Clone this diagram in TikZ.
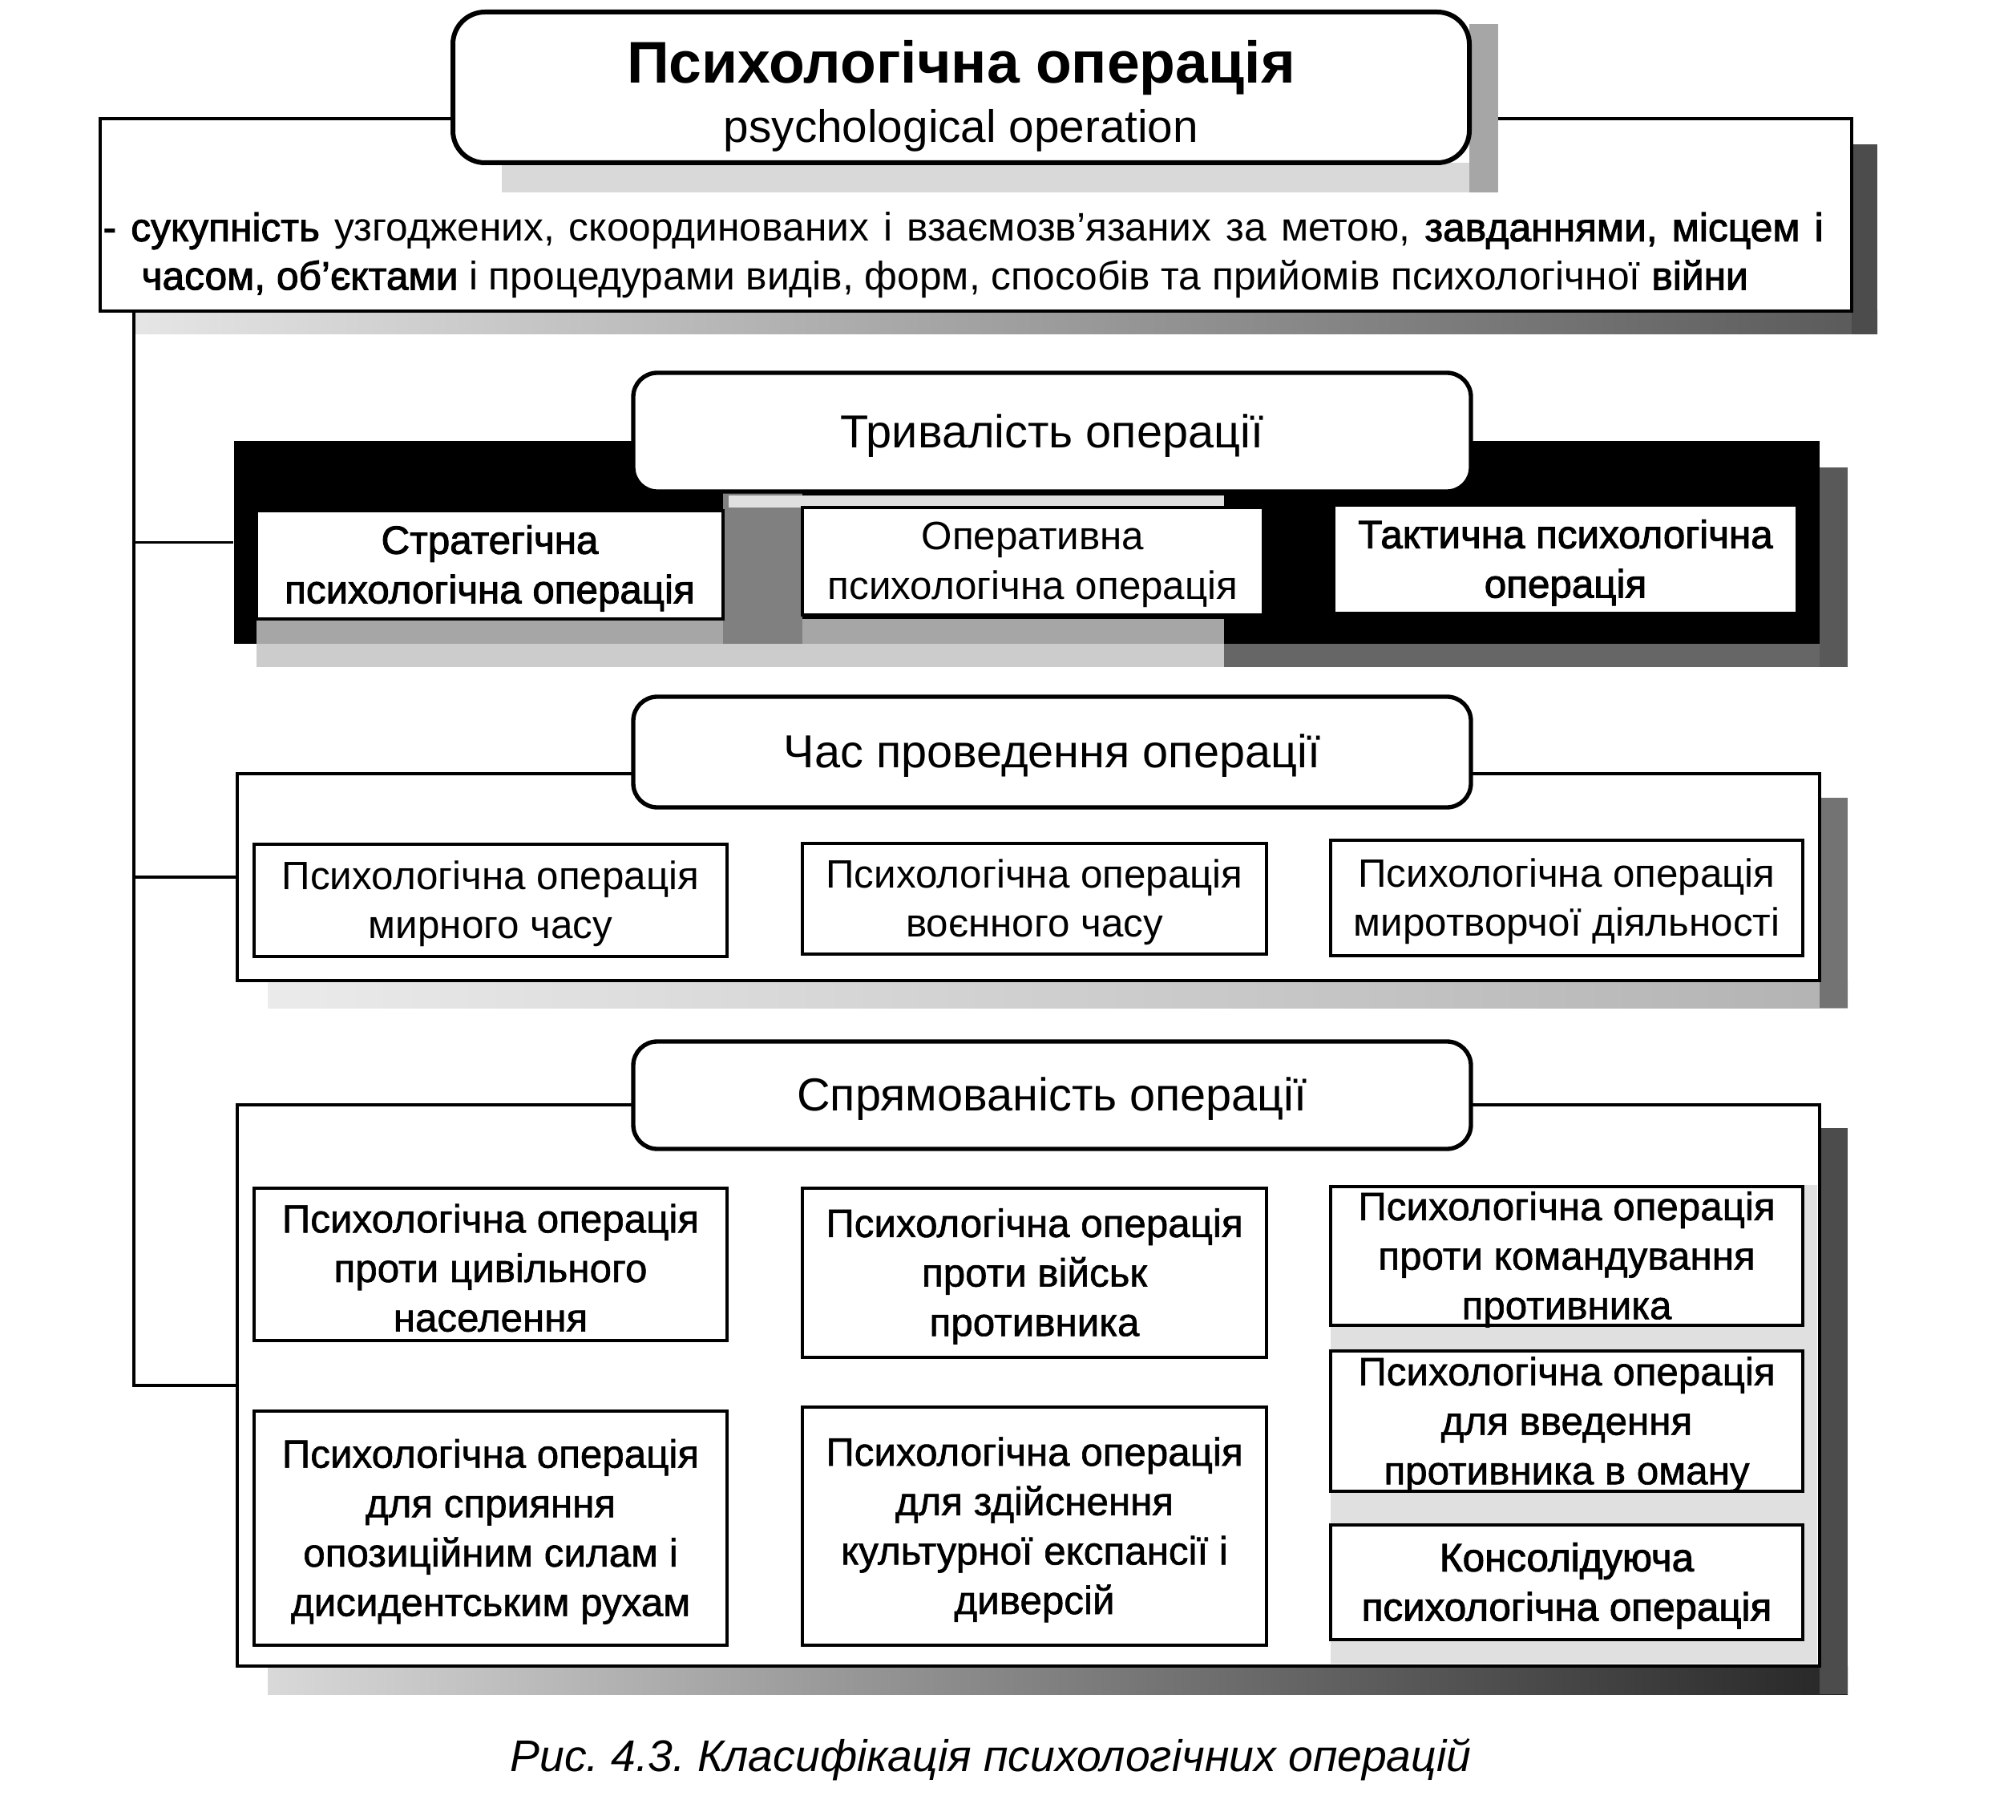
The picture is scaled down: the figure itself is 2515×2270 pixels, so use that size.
\documentclass[tikz,border=0pt]{standalone}
\usepackage{fontspec}
\setmainfont{Liberation Sans}
\newfontfamily\fbA{Liberation Sans}[FakeBold=1.2]
\newfontfamily\fbB{Liberation Sans}[FakeBold=2]
\frenchspacing
\tikzset{
  lbl/.style={inner sep=0pt, align=center, font=\fontsize{14.9}{18.5}\selectfont},
  ibox/.style={draw, line width=1.1pt, fill=white, inner sep=0pt},
  itxt/.style={inner sep=0pt, align=center, font=\fontsize{14.8}{18.5}\selectfont},
  bfA/.style={font=\fbA\fontsize{14.8}{18.5}\selectfont},
  bfB/.style={font=\fbB\fontsize{14.8}{18.5}\selectfont},
  hbox/.style={draw, line width=1.6pt, fill=white, rounded corners=9pt, inner sep=0pt},
  htxt/.style={inner sep=0pt, align=center, font=\fontsize{17.3}{20}\selectfont},
  obox/.style={draw, line width=1.2pt, fill=white, inner sep=0pt},
  blk/.style={fill=black, inner sep=0pt},
  conn/.style={line width=1.1pt},
}
% #1 box style, #2 name, (#3,#4) top-left, (#5,#6) bottom-right, #7 text style, #8 text
\newcommand\boxat[8]{%
  \pgfmathsetmacro\bxw{0.3*(#5-#3)}%
  \pgfmathsetmacro\bxh{0.3*(#6-#4)}%
  \node[#1, minimum width=\bxw pt, minimum height=\bxh pt] (#2) at ({(#3+#5)/2},{(#4+#6)/2}) {};
  \node[#7, yshift=-1.3pt] (#2-t) at (#2.center) {#8};}
\begin{document}
\begin{tikzpicture}[x=0.3pt,y=-0.3pt]
\useasboundingbox (0,0) rectangle (2515,2270);
% definition box with shadow
\shade[left color=black!10,right color=black!65] (168,388) rectangle (2342,417);
\fill[black!70] (2310,180) rectangle (2342,417);
\boxat{obox}{def}{125}{148}{2310}{388}{lbl}{}
% title shadow and title
\fill[black!15] (626,203) rectangle (1869,240);
\fill[black!35] (1833,30) rectangle (1869,240);
\boxat{hbox, rounded corners=12pt, line width=1.8pt}{title}{565}{15}{1833}{203}{lbl}{}
\node[font=\bfseries\fontsize{22}{26}\selectfont, inner sep=0pt] (t1) at (1199,85) {Психологічна операція};
\node[font=\fontsize{17}{20}\selectfont, inner sep=0pt] (t2) at (1199,163) {psychological operation};
\node[lbl, anchor=west] (d1) at (128,288) {\hbox to 643.8pt{{\fbB- сукупність} узгоджених, скоординованих і взаємозв’язаних за метою, {\fbB завданнями, місцем і}}};
\node[lbl, anchor=west] (d2) at (176,348) {{\fbB часом, об’єктами} і процедурами видів, форм, способів та прийомів психологічної {\fbB війни}};
% section 1
\fill[black!60] (1527,803) rectangle (2305,832);
\fill[black!20] (320,803) rectangle (1527,832);
\fill[black!65] (2270,583) rectangle (2305,832);
\boxat{blk}{s1}{292}{550}{2270}{803}{lbl}{}
\fill[black!35] (320,772) rectangle (1527,803);
\fill[black!50] (902,613) rectangle (1001,803);
\fill[black!12] (909,618) rectangle (1527,633);
\boxat{ibox}{s1a}{320}{637}{902}{772}{itxt, bfB}{Стратегічна\\психологічна операція}
\boxat{ibox}{s1b}{1001}{633}{1576}{767}{itxt}{Оперативна\\психологічна операція}
\boxat{ibox}{s1c}{1664}{630}{2242}{765}{itxt, bfB}{Тактична психологічна\\операція}
\boxat{hbox}{h1}{790}{465}{1835}{613}{htxt}{Тривалість операції}
% section 2
\shade[left color=black!8,right color=black!30] (334,1223) rectangle (2305,1257);
\fill[black!55] (2270,995) rectangle (2305,1257);
\boxat{obox}{s2}{296}{965}{2270}{1223}{lbl}{}
\boxat{ibox}{s2a}{317}{1053}{907}{1193}{itxt}{Психологічна операція\\мирного часу}
\boxat{ibox}{s2b}{1001}{1052}{1580}{1190}{itxt}{Психологічна операція\\воєнного часу}
\boxat{ibox}{s2c}{1660}{1048}{2249}{1192}{itxt}{Психологічна операція\\миротворчої діяльності}
\boxat{hbox}{h2}{790}{869}{1835}{1007}{htxt}{Час проведення операції}
% section 3
\shade[left color=black!15,right color=black!85] (334,2078) rectangle (2305,2113);
\fill[black!70] (2270,1407) rectangle (2305,2113);
\boxat{obox}{s3}{296}{1378}{2270}{2078}{lbl}{}
\fill[black!12] (1660,1478) rectangle (2267,2075);
\boxat{ibox}{s3a}{317}{1482}{907}{1672}{itxt, bfA}{Психологічна операція\\проти цивільного\\населення}
\boxat{ibox}{s3b}{1001}{1482}{1580}{1693}{itxt, bfA}{Психологічна операція\\проти військ\\противника}
\boxat{ibox}{s3c}{1660}{1480}{2249}{1653}{itxt, bfA}{Психологічна операція\\проти командування\\противника}
\boxat{ibox}{s3d}{1660}{1685}{2249}{1860}{itxt, bfA}{Психологічна операція\\для введення\\противника в оману}
\boxat{ibox}{s3e}{317}{1760}{907}{2052}{itxt, bfA}{Психологічна операція\\для сприяння\\опозиційним силам і\\дисидентським рухам}
\boxat{ibox}{s3f}{1001}{1755}{1580}{2052}{itxt, bfA}{Психологічна операція\\для здійснення\\культурної експансії і\\диверсій}
\boxat{ibox}{s3g}{1660}{1902}{2249}{2045}{itxt, bfB}{Консолідуюча\\психологічна операція}
\boxat{hbox}{h3}{790}{1299}{1835}{1433}{htxt}{Спрямованість операції}
% connectors
\coordinate (trunk) at (167,388);
\draw[conn] (trunk) |- (s3.west);
\draw[conn] (trunk |- s1.west) -- (s1.west);
\draw[conn] (trunk |- s2.west) -- (s2.west);
% caption
\node[font=\itshape\fontsize{16.6}{19}\selectfont, inner sep=0pt] (cap) at (1236,2195) {Рис. 4.3. Класифікація психологічних операцій};
\end{tikzpicture}
\end{document}
